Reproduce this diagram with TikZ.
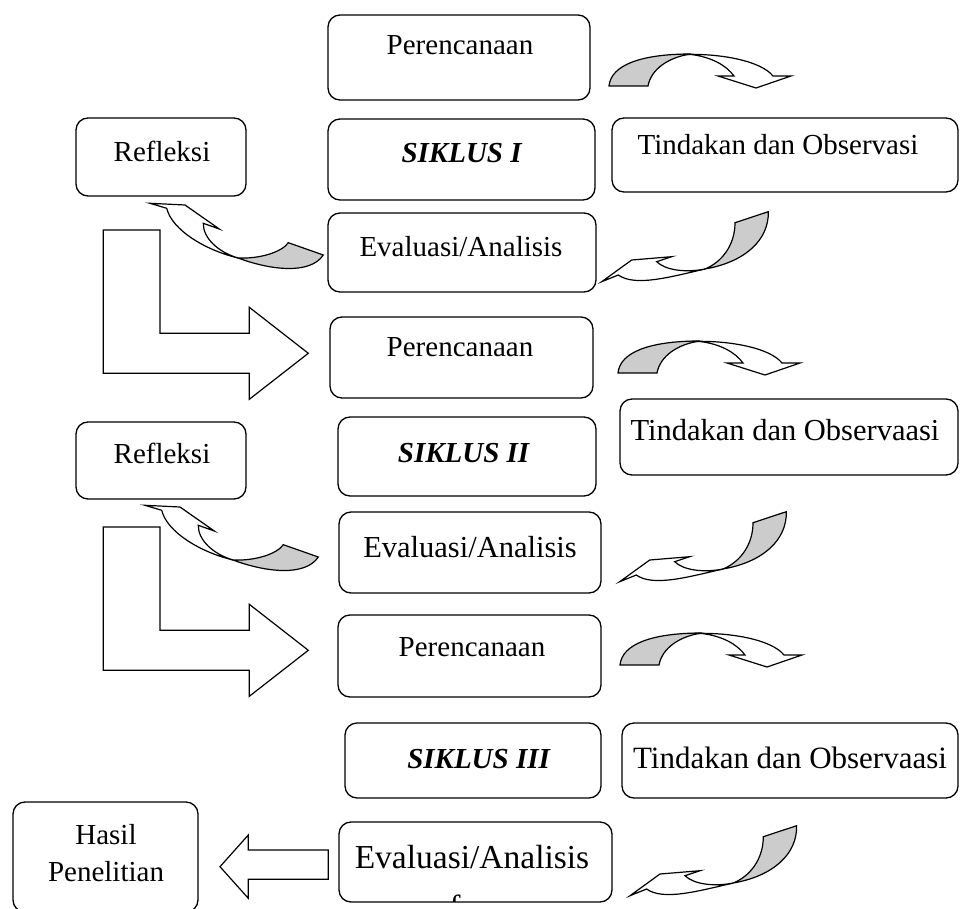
\documentclass[tikz,border=0pt]{standalone}
\usepackage{fontspec}
\setmainfont{Liberation Serif}
\definecolor{grayfill}{RGB}{204,204,204}
\tikzset{
  box/.style={draw, line width=1.3pt, rounded corners=12pt, inner sep=0pt, outer sep=0pt, anchor=north west},
  txt/.style={inner sep=0pt, font=\fontsize{29}{34}\selectfont},
  txtb/.style={inner sep=0pt, font=\fontsize{30.5}{36}\selectfont},
  blockarr/.style={draw, line width=1.2pt, line join=miter, fill=white},
  grayband/.style={draw, line width=1.2pt, line join=miter, fill=grayfill},
}
\newcommand\myArrowA[1]{%
\begin{scope}[shift={#1}]
\path[blockarr] (690,341.5) .. controls (730,340) and (770,348) .. (782,363) -- (800,363) -- (765,375) -- (727,363) -- (743,363) .. controls (735,352) and (720,344) .. (700,341.5) -- cycle;
\path[grayband] (618,373) .. controls (620,352) and (650,341) .. (700,341) .. controls (678,344) and (660,356) .. (657,373) -- cycle;
\end{scope}}
\newcommand\myArrowB[1]{%
\begin{scope}[shift={#1}]
\path[blockarr] (150,203.3) -- (185,205) -- (219.3,229) -- (203.3,223.3) .. controls (203,238) and (218,252) .. (238,258) .. controls (205,250) and (172,230) .. (166.7,208.3) -- cycle;
\path[grayband] (238,258) .. controls (270,270) and (310,275) .. (323.3,255) -- (288.3,242.7) .. controls (282,252) and (260,259) .. (238,258) -- cycle;
\end{scope}}
\newcommand\myArrowC[1]{%
\begin{scope}[shift={#1}]
\path[blockarr] (656.7,261.7) -- (671.7,256.7) -- (631.7,260) -- (601.7,281.7) -- (618.3,275) .. controls (635,287) and (670,277) .. (705,269) .. controls (685,273) and (665,270) .. (656.7,261.7) -- cycle;
\path[grayband] (735,222.7) -- (768.3,211.7) .. controls (769,240) and (745,262) .. (705,269) .. controls (722,262) and (735,245) .. (735,222.7) -- cycle;
\end{scope}}
\newcommand\myArrowL[1]{%
\begin{scope}[shift={#1}]
\path[blockarr] (103.3,230) -- (160,230) -- (160,333.3) -- (249.3,333.3) -- (249.3,307.3) -- (308.3,353.3) -- (249.3,399.3) -- (249.3,373.3) -- (103.3,373.3) -- cycle;
\end{scope}}
\begin{document}
\begin{tikzpicture}[x=1pt,y=-1pt]
\useasboundingbox[fill=white] (0,0) rectangle (960,909);
% ---- cycle I
\node[box, minimum width=262pt, minimum height=85pt] (plan1) at (328,15) {};
\node[txt] (plan1t) at (460,45) {Perencanaan};
\node[box, minimum width=170pt, minimum height=78pt] (refl1) at (76,118) {};
\node[txt] (refl1t) at (162,151) {Refleksi};
\node[box, minimum width=267pt, minimum height=81pt] (sik1) at (328,119) {};
\node[txt] (sik1t) at (462,153) {\textbf{\textit{SIKLUS I}}};
\node[box, minimum width=346pt, minimum height=74pt] (tin1) at (612,118) {};
\node[txt] (tin1t) at (778,145) {Tindakan dan Observasi};
\node[box, minimum width=268pt, minimum height=79pt] (eval1) at (328,213) {};
\node[txt] (eval1t) at (461,247) {Evaluasi/Analisis};
\myArrowA{(-9,-287)}
\myArrowB{(0,0)}
\myArrowC{(0,0)}
\myArrowL{(0,0)}
% ---- cycle II
\node[box, minimum width=263pt, minimum height=81pt] (plan2) at (330,317) {};
\node[txt] (plan2t) at (460,347) {Perencanaan};
\node[box, minimum width=338pt, minimum height=76pt] (tin2) at (620,399) {};
\node[txtb] (tin2t) at (785,430) {Tindakan dan Observaasi};
\node[box, minimum width=170pt, minimum height=77pt] (refl2) at (76,422) {};
\node[txt] (refl2t) at (162,453) {Refleksi};
\node[box, minimum width=258pt, minimum height=79pt] (sik2) at (338,417) {};
\node[txt] (sik2t) at (464,453) {\textbf{\textit{SIKLUS II}}};
\node[box, minimum width=262pt, minimum height=81pt] (eval2) at (339,512) {};
\node[txtb] (eval2t) at (470,547) {Evaluasi/Analisis};
\myArrowA{(0,0)}
\myArrowB{(-5,302)}
\myArrowC{(18,300)}
\myArrowL{(0,297)}
% ---- cycle III
\node[box, minimum width=263pt, minimum height=82pt] (plan3) at (338,615) {};
\node[txt] (plan3t) at (472,647) {Perencanaan};
\node[box, minimum width=256pt, minimum height=75pt] (sik3) at (345,723) {};
\node[txt] (sik3t) at (479,759) {\textbf{\textit{SIKLUS III}}};
\node[box, minimum width=336pt, minimum height=75pt] (tin3) at (622,723) {};
\node[inner sep=0pt, font=\fontsize{31}{36}\selectfont] (tin3t) at (790,758) {Tindakan dan Observaasi};
\node[box, minimum width=185pt, minimum height=110pt] (hasil) at (13,802) {};
\node[txt, align=center, font=\fontsize{29}{37}\selectfont] (hasilt) at (106,853) {Hasil\\Penelitian};
\node[box, minimum width=273pt, minimum height=80pt] (eval3) at (339,822) {};
\node[inner sep=0pt, font=\fontsize{33.5}{40}\selectfont] (eval3t) at (472,857) {Evaluasi/Analisis};
\begin{scope}
\clip (340,823) rectangle (611,901);
\node[inner sep=0pt, font=\fontsize{33.5}{40}\selectfont, anchor=base] (eval3f) at (455,918) {f};
\end{scope}
\myArrowA{(2,292)}
\myArrowC{(28.3,614)}
\path[blockarr] (328.3,850) -- (248.3,850) -- (248.3,835) -- (220,866.7) -- (248.3,898.3) -- (248.3,879.3) -- (328.3,879.3) -- cycle;
\end{tikzpicture}
\end{document}
